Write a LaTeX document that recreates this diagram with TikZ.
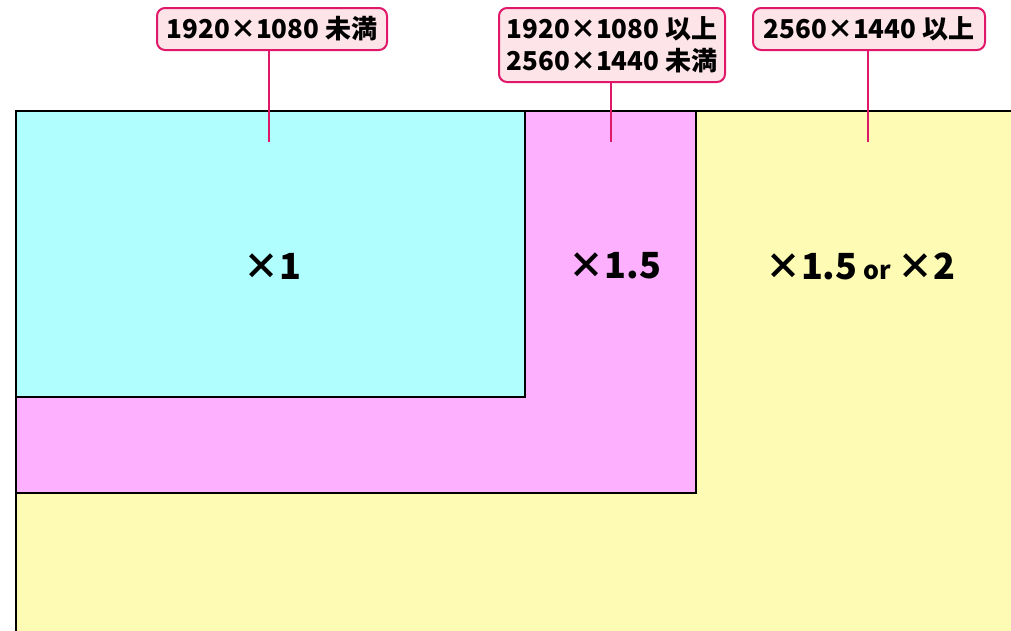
\documentclass[tikz,border=0pt]{standalone}
\usepackage{fontspec}
\newfontfamily\jpfont{Noto Sans CJK JP}[BoldFont={Noto Sans CJK JP Black}]
\definecolor{tagline}{HTML}{E0186A}
\definecolor{tagfill}{HTML}{FCE4E8}
\definecolor{zoneA}{HTML}{B0FEFE}
\definecolor{zoneB}{HTML}{FDB0FD}
\definecolor{zoneC}{HTML}{FEFCB4}
\begin{document}
\begin{tikzpicture}[x=1pt,y=-1pt,
  zone/.style={draw=black,line width=1.5pt},
  tag/.style={draw=tagline,fill=tagfill,line width=2pt,rounded corners=8pt,
    inner sep=0pt,align=center,font=\jpfont\bfseries\fontsize{26}{32}\selectfont},
  pointer/.style={draw=tagline,line width=2pt},
  factor/.style={font=\jpfont\bfseries\fontsize{36}{40}\selectfont}]
\useasboundingbox (0,0) rectangle (1011,630);
\clip (0,0) rectangle (1011,630);
% nested screen areas
\draw[zone,fill=zoneC] (16,111) rectangle (1030,650);
\draw[zone,fill=zoneB] (16,111) rectangle (696,493);
\draw[zone,fill=zoneA] (16,111) rectangle (525,397);
% scale factors
\node[factor] (f1) at (272,266) {×1};
\node[factor] (f2) at (615,266) {×1.5};
\node[factor] (f3) at (860,266) {×1.5\,{\fontsize{25}{28}\selectfont or}\,×2};
% resolution tags
\node[tag,minimum width=230pt,minimum height=42pt] (t1) at (272,29) {1920×1080 未満};
\node[tag,minimum width=226pt,minimum height=74pt] (t2) at (612,45) {1920×1080 以上\\2560×1440 未満};
\node[tag,minimum width=232pt,minimum height=42pt] (t3) at (869,29) {2560×1440 以上};
\coordinate (p1) at (269,142);
\coordinate (p2) at (611,142);
\coordinate (p3) at (868,142);
\draw[pointer] (t1.south -| p1) -- (p1);
\draw[pointer] (t2.south -| p2) -- (p2);
\draw[pointer] (t3.south -| p3) -- (p3);
\end{tikzpicture}
\end{document}
